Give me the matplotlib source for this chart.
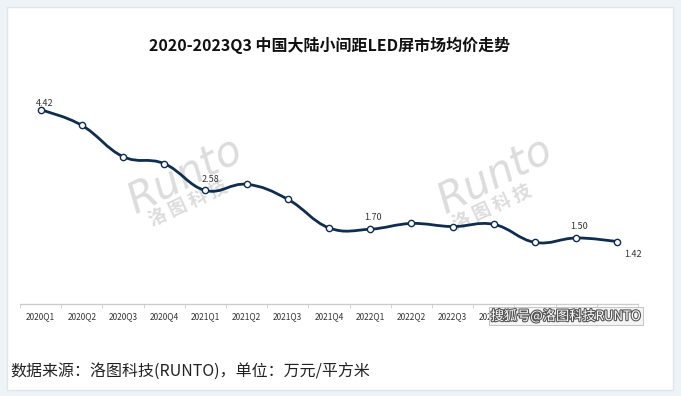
import matplotlib
matplotlib.use('Agg')
import matplotlib.pyplot as plt
from matplotlib.path import Path
from matplotlib.patches import PathPatch, Rectangle
import matplotlib.patheffects as pe
import numpy as np

plt.rcParams['font.family'] = ['Noto Sans CJK SC', 'DejaVu Sans']

# ---- data ----
quarters = ['2020Q1', '2020Q2', '2020Q3', '2020Q4',
            '2021Q1', '2021Q2', '2021Q3', '2021Q4',
            '2022Q1', '2022Q2', '2022Q3', '2022Q4',
            '2023Q1', '2023Q2', '2023Q3']
prices = [4.42, 4.06, 3.35, 3.19, 2.58, 2.72, 2.38, 1.73,
          1.70, 1.83, 1.76, 1.81, 1.40, 1.50, 1.42]
labeled_idx = [0, 4, 8, 13, 14]

title = '2020-2023Q3 中国大陆小间距LED屏市场均价走势'
source = '数据来源：洛图科技(RUNTO)，单位：万元/平方米'

W, H = 681, 396
fig = plt.figure(figsize=(W / 100, H / 100), dpi=100)
fig.patch.set_facecolor('#eef3f8')

def fx(px):
    return px / W

def fy(py):
    return 1 - py / H

# white panel
fig.patches.append(Rectangle((fx(7), fy(390)), fx(666), 383 / H,
                             transform=fig.transFigure, facecolor='white',
                             edgecolor='#dfe5ec', linewidth=1, zorder=-5))

ax_left, ax_right, ax_bottom, ax_top = 20, 638, 304, 84
ax = fig.add_axes([fx(ax_left), fy(ax_bottom), fx(ax_right - ax_left),
                   (ax_bottom - ax_top) / H])
ax.set_facecolor('none')
ax.set_zorder(2)
n = len(prices)
ax.set_xlim(-0.5, n - 0.5)
ax.set_ylim(0, 5.0)

# watermarks (background)
for cx, cy, ccx, ccy in [(185, 175, 188, 203), (495, 175, 492, 207)]:
    fig.text(fx(cx), fy(cy), 'Runto', fontsize=30, style='italic',
             color='#dcdcdc', rotation=27, ha='center', va='center',
             family=['DejaVu Sans'], zorder=1)
    fig.text(fx(ccx), fy(ccy), '洛 图 科 技', fontsize=13, fontweight='bold',
             color='#dcdcdc', rotation=25, ha='center', va='center', zorder=1)

# smooth line through data points
x = np.arange(n, dtype=float)
y = np.array(prices, dtype=float)
k = 0.2
pts = np.column_stack([x, y])
tang = np.zeros_like(pts)
for i in range(n):
    p_prev = pts[max(i - 1, 0)]
    p_next = pts[min(i + 1, n - 1)]
    tang[i] = (p_next - p_prev) * k
verts = [tuple(pts[0])]
codes = [Path.MOVETO]
for i in range(n - 1):
    verts += [tuple(pts[i] + tang[i]), tuple(pts[i + 1] - tang[i + 1]), tuple(pts[i + 1])]
    codes += [Path.CURVE4] * 3
ax.add_patch(PathPatch(Path(verts, codes), facecolor='none',
                       edgecolor='#0f2d4f', linewidth=2.0, zorder=3))
ax.plot(x, y, linestyle='none', marker='o', markersize=4.5,
        markerfacecolor='white', markeredgecolor='#0f2d4f',
        markeredgewidth=1.0, zorder=4)

# data labels
offsets = {0: (3, 1, 'center', 'bottom'), 4: (4, 5, 'center', 'bottom'),
           8: (2, 5, 'center', 'bottom'), 13: (2, 5, 'center', 'bottom'),
           14: (11, -9, 'center', 'center')}
for i in labeled_idx:
    dx, dy, ha, va = offsets[i]
    ax.annotate(f'{prices[i]:.2f}', (x[i], y[i]), xytext=(dx, dy),
                textcoords='offset points', ha=ha, va=va, fontsize=6.5,
                color='#333333', zorder=5)

# axes styling
for s in ['top', 'right', 'left']:
    ax.spines[s].set_visible(False)
ax.spines['bottom'].set_color('#cccccc')
ax.spines['bottom'].set_linewidth(1)
ax.set_yticks([])
ax.set_xticks(x)
ax.set_xticklabels(quarters, fontsize=6, color='#333333')
ax.tick_params(axis='x', which='major', length=0, pad=6)
ax.set_xticks(np.arange(-0.5, n, 1.0), minor=True)
ax.tick_params(axis='x', which='minor', length=3, color='#cccccc')

# title and source
fig.text(fx(330), fy(45), title, fontsize=11.5, fontweight='bold',
         ha='center', va='center', color='#111111')
fig.text(fx(10), fy(372), source, fontsize=11.5, ha='left', va='center',
         color='#222222')

# platform watermark
fig.text(fx(566), fy(316), '搜狐号@洛图科技RUNTO', fontsize=9.5, color='white',
         ha='center', va='center', zorder=10,
         path_effects=[pe.withStroke(linewidth=1.6, foreground='#555555')],
         bbox=dict(boxstyle='square,pad=0.15', facecolor='#f4f4f4',
                   edgecolor='#bbbbbb', linewidth=0.6))

fig.savefig('out.png', dpi=100, facecolor=fig.get_facecolor())
